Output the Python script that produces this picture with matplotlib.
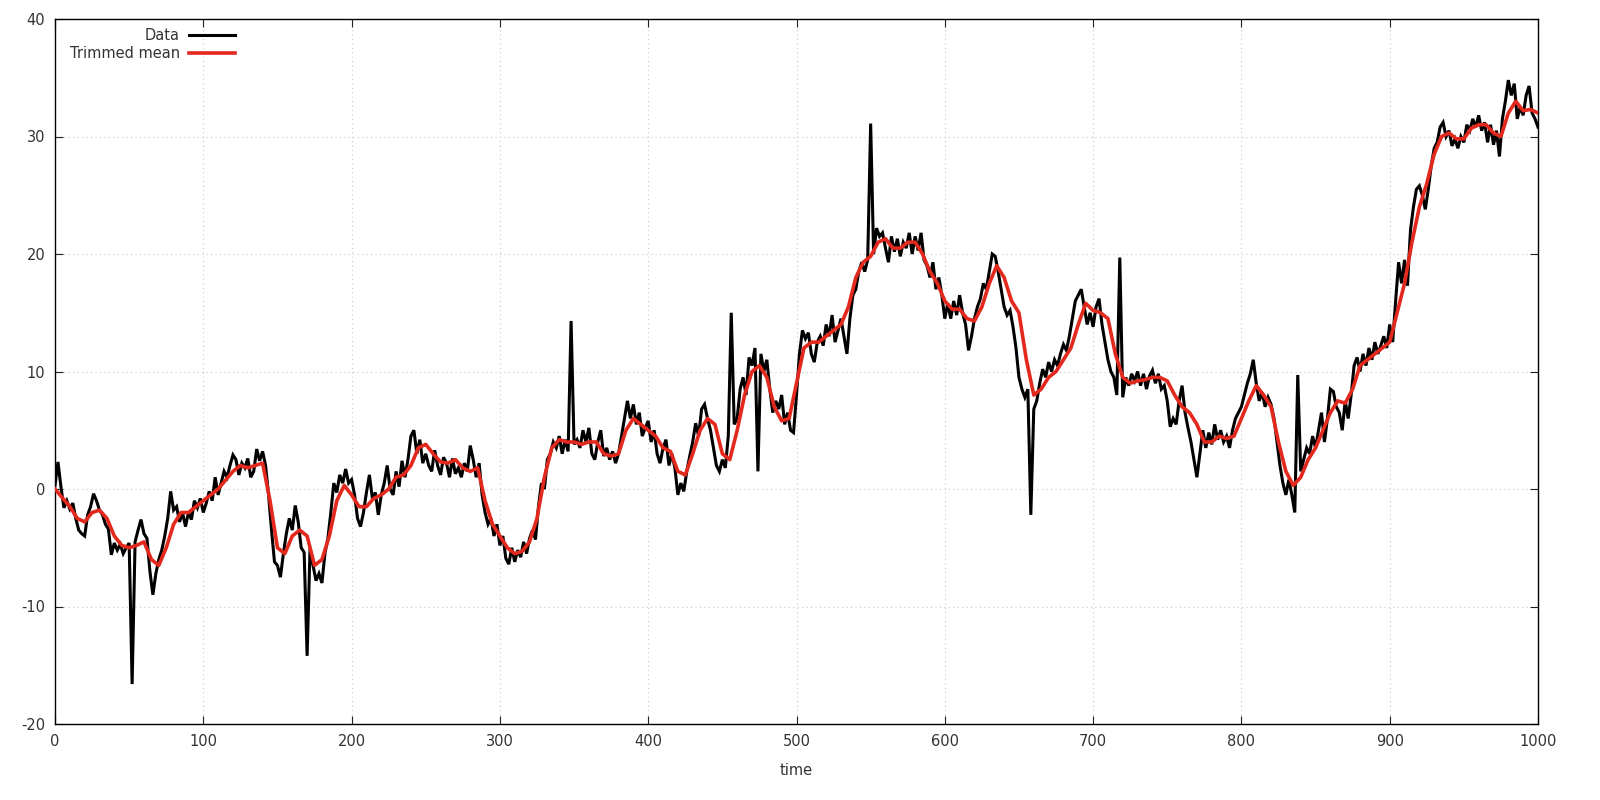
import matplotlib
matplotlib.use("Agg")
import matplotlib.pyplot as plt

# ---- Data, one value every 2 time units ----
data_step = 2
data_v = [
    0.3, 2.3, 0.2, -1.6, -1.0, -1.7, -1.2, -2.5, -3.5, -3.8, -4.0, -2.2, -1.5, -0.4, -1.0, -1.8, -2.2, -3.0, -3.4, -5.6, -4.6, -5.2, -4.7, -5.5, -5.0,
    -4.6, -16.6, -4.5, -3.5, -2.6, -3.8, -4.2, -7.0, -9.0, -7.2, -6.0, -5.2, -4.0, -2.5, -0.2, -1.8, -1.5, -2.8, -2.0, -3.2, -2.0, -2.6, -1.0, -1.6, -0.8,
    -2.0, -1.2, -0.2, -1.0, 1.0, -0.5, 0.5, 1.5, 1.0, 2.0, 2.9, 2.5, 1.2, 2.2, 1.8, 2.6, 1.0, 1.5, 3.4, 2.4, 3.2, 2.0, -0.5, -3.5, -6.2,
    -6.5, -7.5, -5.5, -3.8, -2.5, -3.5, -1.4, -2.8, -5.0, -5.4, -14.2, -5.0, -6.5, -7.8, -7.2, -8.0, -5.5, -4.2, -2.0, 0.5, -0.3, 1.2, 0.5, 1.7, 0.5,
    0.8, -0.5, -2.5, -3.2, -2.0, -0.3, 1.2, -0.8, -0.3, -2.2, -0.5, 0.5, 2.0, 0.0, -0.5, 1.5, 0.2, 2.4, 1.0, 2.5, 4.5, 5.0, 3.0, 4.2, 2.2,
    3.0, 2.0, 1.5, 3.3, 2.0, 1.2, 2.7, 2.2, 1.0, 2.6, 1.3, 1.8, 1.0, 2.2, 1.5, 3.7, 2.5, 1.0, 2.2, -0.5, -2.0, -3.0, -2.5, -4.0, -3.0,
    -4.8, -4.0, -5.9, -6.4, -5.0, -6.2, -5.2, -5.8, -4.5, -5.5, -4.2, -3.5, -4.3, -1.5, 0.5, 0.0, 2.5, 3.0, 4.0, 3.5, 4.5, 3.0, 4.2, 3.2, 14.3,
    3.8, 4.2, 3.5, 5.0, 4.0, 5.2, 3.0, 2.5, 4.0, 5.0, 2.8, 3.5, 2.5, 3.2, 2.2, 3.0, 4.5, 6.0, 7.5, 6.0, 7.2, 5.5, 6.5, 4.5, 5.2,
    5.8, 4.0, 5.0, 3.0, 2.2, 3.5, 4.2, 2.0, 3.0, 1.8, -0.5, 0.5, -0.2, 1.5, 2.8, 4.0, 5.6, 4.5, 6.8, 7.2, 6.0, 5.0, 3.5, 2.0, 1.5,
    2.5, 1.8, 4.5, 15.0, 5.5, 6.0, 8.5, 9.5, 8.0, 11.2, 10.5, 12.0, 1.5, 11.5, 10.0, 11.0, 8.5, 6.5, 7.5, 6.8, 8.0, 5.5, 6.5, 5.0, 4.8,
    8.0, 11.5, 13.5, 12.8, 13.3, 11.5, 10.8, 12.5, 13.0, 12.2, 14.0, 13.0, 14.8, 12.5, 13.5, 14.5, 13.0, 11.5, 14.5, 16.5, 17.0, 18.5, 19.3, 18.5, 19.5,
    31.1, 20.0, 22.2, 21.5, 21.8, 20.5, 19.3, 21.5, 20.2, 21.3, 19.8, 21.0, 20.5, 21.8, 20.0, 21.5, 20.3, 21.8, 19.5, 19.0, 18.0, 19.3, 17.0, 18.0, 16.5,
    14.5, 15.8, 14.5, 16.0, 14.8, 16.5, 15.0, 14.0, 11.8, 13.0, 14.5, 15.5, 16.2, 17.5, 17.0, 18.5, 20.0, 19.8, 18.5, 17.0, 15.5, 14.8, 15.2, 13.8, 12.0,
    9.5, 8.5, 7.8, 8.5, -2.2, 6.8, 7.5, 9.0, 10.2, 9.5, 10.8, 10.0, 11.0, 10.5, 11.5, 12.3, 11.8, 13.0, 14.5, 16.0, 16.5, 17.0, 15.5, 14.0, 15.0,
    13.8, 15.5, 16.2, 14.0, 12.5, 11.0, 10.0, 9.5, 8.0, 19.7, 7.8, 9.5, 8.8, 9.8, 9.2, 10.0, 8.8, 9.8, 8.5, 9.6, 10.1, 9.0, 9.8, 8.5, 8.8,
    7.5, 5.3, 6.0, 5.5, 7.5, 8.8, 6.5, 5.2, 4.0, 2.5, 1.0, 3.0, 5.0, 3.5, 4.8, 3.8, 5.5, 4.2, 5.0, 4.0, 4.5, 3.5, 5.0, 6.0, 6.5,
    7.0, 8.0, 9.0, 9.8, 11.0, 9.0, 7.5, 8.2, 7.0, 7.8, 7.2, 6.0, 4.0, 2.0, 0.5, -0.5, 0.8, -0.5, -2.0, 9.7, 1.5, 2.5, 3.5, 3.0, 4.5,
    3.5, 5.0, 6.5, 4.0, 6.0, 8.5, 8.3, 7.0, 6.5, 5.0, 7.5, 6.0, 8.0, 10.5, 11.2, 10.0, 11.5, 10.5, 12.0, 11.0, 12.5, 11.5, 12.2, 13.0, 12.0,
    14.0, 12.5, 16.0, 19.3, 17.5, 19.5, 17.3, 22.0, 24.0, 25.5, 25.8, 25.0, 23.8, 25.5, 27.5, 29.0, 29.5, 30.8, 31.2, 30.0, 30.5, 29.2, 29.8, 29.0, 30.0,
    29.5, 31.0, 30.5, 31.5, 30.8, 31.8, 30.5, 31.2, 29.5, 31.0, 29.3, 30.5, 28.3, 31.5, 33.0, 34.8, 33.5, 34.5, 31.5, 32.5, 31.8, 33.5, 34.3, 32.0, 31.5, 30.8,
]
data_t = [i * data_step for i in range(len(data_v))]

mean_t = [0, 10, 15, 20, 25, 30, 35, 40, 45, 50, 55, 60, 65, 70, 75, 80, 85, 90, 95, 100, 110, 120, 125, 130, 135, 140,
          145, 150, 155, 160, 165, 170, 175, 180, 185, 190, 195, 200, 205, 210, 215, 220, 225, 230, 235, 240, 245, 250,
          255, 260, 265, 270, 275, 280, 285, 290, 295, 300, 305, 310, 315, 320, 325, 330, 335, 340, 345, 350, 355, 360,
          365, 370, 375, 380, 385, 390, 395, 400, 405, 410, 415, 420, 425, 430, 435, 440, 445, 450, 455, 460, 465, 470,
          475, 480, 485, 490, 495, 500, 505, 510, 515, 520, 525, 530, 535, 540, 545, 550, 555, 560, 565, 570, 575, 580,
          585, 590, 595, 600, 605, 610, 615, 620, 625, 630, 635, 640, 645, 650, 655, 660, 665, 670, 675, 680, 685, 690,
          695, 700, 705, 710, 715, 720, 725, 730, 735, 740, 745, 750, 755, 760, 765, 770, 775, 780, 785, 790, 795, 800,
          805, 810, 815, 820, 825, 830, 835, 840, 845, 850, 855, 860, 865, 870, 875, 880, 885, 890, 895, 900, 905, 910,
          915, 920, 925, 930, 935, 940, 945, 950, 955, 960, 965, 970, 975, 980, 985, 990, 995, 1000]
mean_v = [0, -1.5, -2.5, -2.8, -2, -1.8, -2.5, -4, -4.8, -5, -4.8, -4.5, -6, -6.5, -5, -3, -2, -2, -1.5, -1, 0, 1.5, 2,
          1.8, 2, 2.2, -1, -5, -5.5, -4, -3.5, -4, -6.5, -6, -4, -1, 0.3, -0.5, -1.5, -1.5, -0.8, -0.5, 0, 1, 1.2, 2,
          3.5, 3.8, 3, 2.3, 2.2, 2.5, 1.8, 1.5, 1.8, -1, -3, -4, -5, -5.5, -5.3, -4.5, -2.5, 1, 3.5, 4.2, 4, 4, 3.8, 4,
          4, 3, 2.8, 3, 5, 6, 5.5, 5, 4.5, 3.5, 3.2, 1.5, 1.2, 3, 5, 6, 5.5, 3, 2.5, 5, 8, 10,
          10.5, 9.5, 7, 5.8, 6, 9, 12, 12.5, 12.5, 13, 13.5, 14, 15.5, 18, 19.3, 19.8, 21, 21.3, 20.5, 20.5, 21, 21,
          20, 18.5, 17.5, 16, 15.3, 15.3, 14.5, 14.3, 15.5, 17.5, 19, 18, 16, 15, 11, 8, 8.5, 9.5, 10, 11, 12, 14,
          15.8, 15.2, 15, 14.5, 11.5, 9.5, 9, 9.2, 9.3, 9.5, 9.5, 9.2, 8, 7, 6.5, 5.5, 4, 4, 4.5, 4.3, 4.5, 6,
          7.5, 8.8, 8, 7, 4, 1.5, 0.3, 1, 2.5, 3.5, 5, 6.5, 7.5, 7.3, 8.5, 10.5, 11, 11.5, 12, 12.5, 15, 17.5,
          21, 24, 26, 28.5, 30, 30.3, 29.8, 29.8, 30.7, 31, 31, 30.3, 30, 32, 33, 32.2, 32.3, 32]

x_ticks = list(range(0, 1001, 100))
y_ticks = list(range(-20, 41, 10))

plt.rcParams['font.family'] = ['DejaVu Sans']
plt.rcParams['axes.unicode_minus'] = False
fig = plt.figure(figsize=(16, 8), dpi=100)
ax = fig.add_axes([55 / 1600, 76 / 800, 1483 / 1600, 705 / 800])

ax.plot(data_t, data_v, color='black', lw=2.2, label='Data', zorder=3, solid_joinstyle='miter')
ax.plot(mean_t, mean_v, color='#e3291d', lw=2.6, label='Trimmed mean', zorder=4)

ax.set_xlim(0, 1000)
ax.set_ylim(-20, 40)
ax.set_xticks(x_ticks)
ax.set_yticks(y_ticks)
ax.tick_params(direction='in', length=6, width=0.8, top=True, right=True, labelsize=10.5,
               colors='#222222', labelcolor='#333333', pad=7)
ax.grid(True, color='#c8c8c8', linestyle=(0, (1, 3)), linewidth=0.8)
for s in ax.spines.values():
    s.set_linewidth(1.0)
    s.set_color('black')
ax.set_xlabel('time', fontsize=10.5, color='#333333', labelpad=10)

leg = ax.legend(loc='upper left', frameon=False, markerfirst=False, fontsize=10.5,
                handlelength=3.2, borderaxespad=0.2, labelspacing=0.2, handletextpad=0.6,
                bbox_to_anchor=(0.004, 1.0))
for t in leg.get_texts():
    t.set_color('#333333')

fig.savefig('out.png', dpi=100)
